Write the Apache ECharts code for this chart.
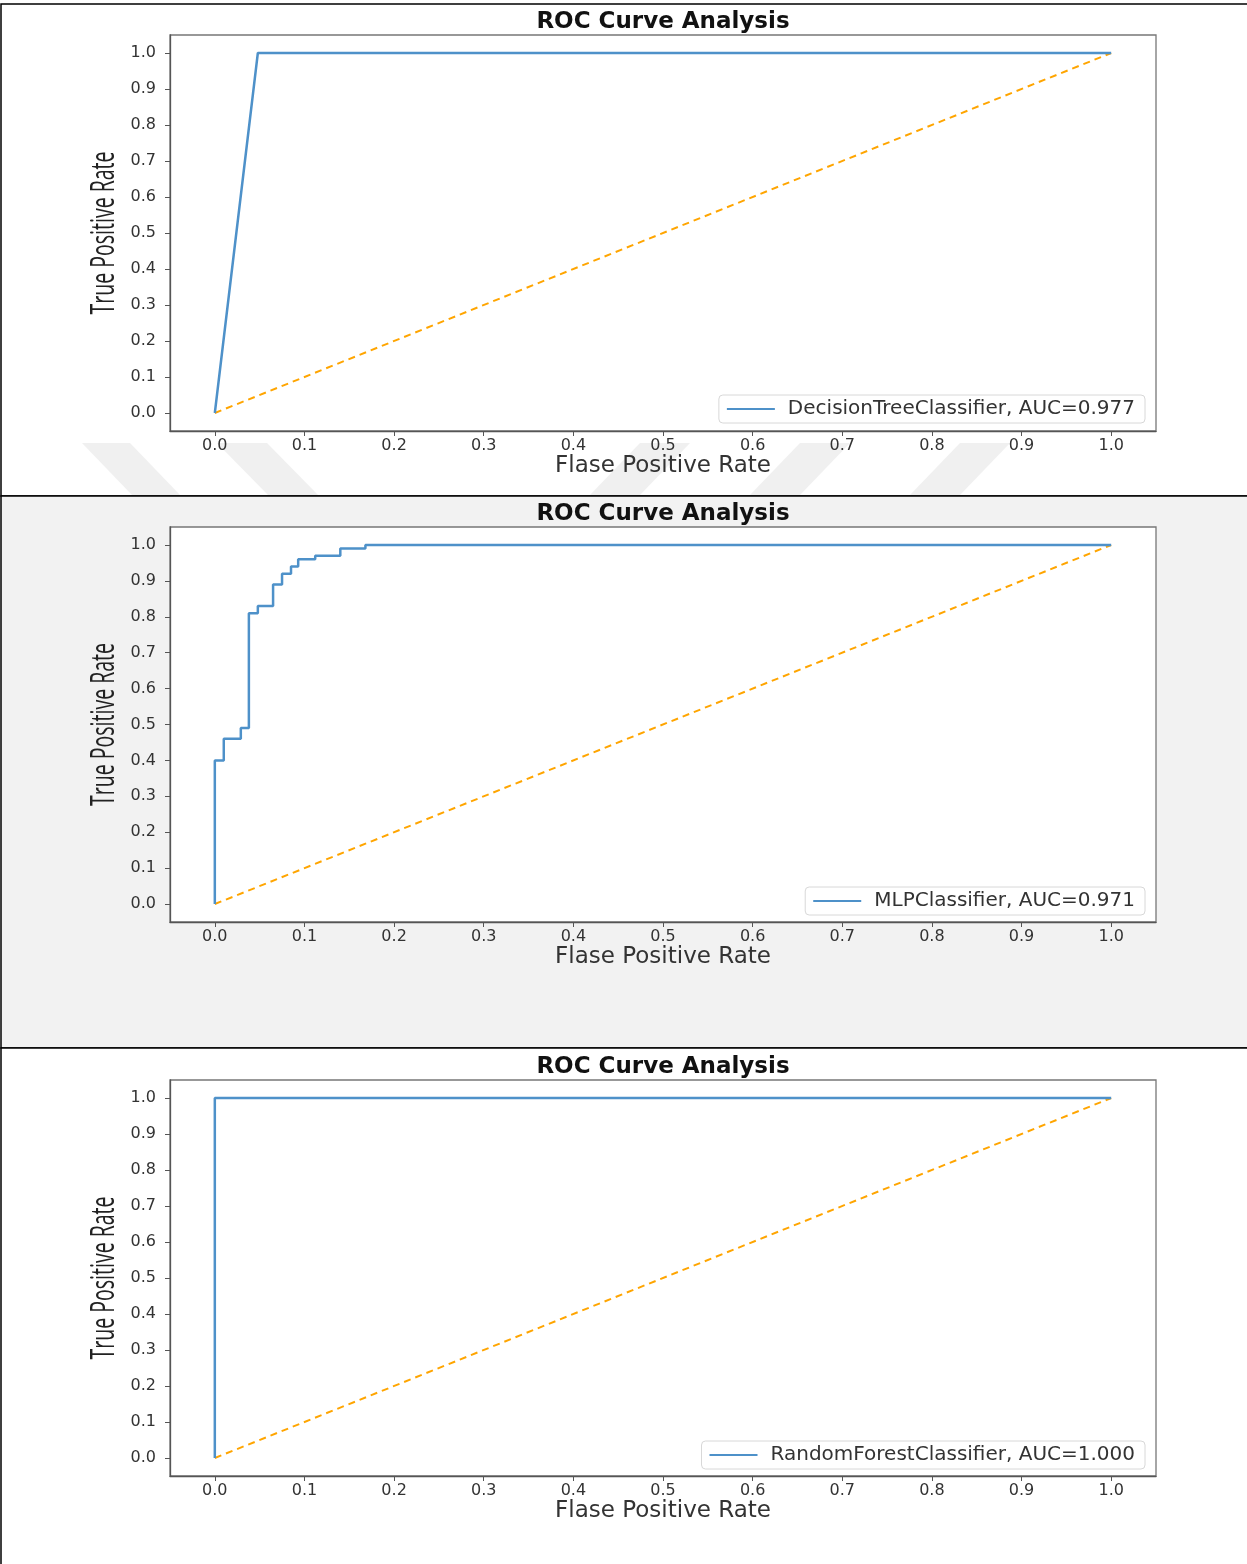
<!DOCTYPE html>
<html>
<head>
<meta charset="utf-8">
<script src="https://cdn.jsdelivr.net/npm/echarts@6/dist/echarts.min.js"></script>
<style>
  html, body { margin: 0; padding: 0; background: #fff; }
  #chart { width: 1247px; height: 1564px; }
</style>
</head>
<body>
<div id="chart"></div>
<script>
// ---------------- data ----------------
const chartTitle = 'ROC Curve Analysis';
const xAxisName = 'Flase Positive Rate';
const yAxisName = 'True Positive Rate';
const tickValues = [0, 0.1, 0.2, 0.3, 0.4, 0.5, 0.6, 0.7, 0.8, 0.9, 1.0];

const chanceFpr = [0, 1];
const chanceTpr = [0, 1];

const dtName = 'DecisionTreeClassifier, AUC=0.977';
const dtFpr = [0, 0.048, 1.0];
const dtTpr = [0, 1.0, 1.0];

const mlpName = 'MLPClassifier, AUC=0.971';
const mlpFpr = [0, 0, 0.010, 0.010, 0.029, 0.029, 0.038, 0.038, 0.048, 0.048, 0.065, 0.065, 0.075, 0.075, 0.085, 0.085, 0.093, 0.093, 0.112, 0.112, 0.140, 0.140, 0.168, 0.168, 1.0];
const mlpTpr = [0, 0.40, 0.40, 0.46, 0.46, 0.49, 0.49, 0.81, 0.81, 0.83, 0.83, 0.89, 0.89, 0.92, 0.92, 0.94, 0.94, 0.96, 0.96, 0.97, 0.97, 0.99, 0.99, 1.0, 1.0];

const rfName = 'RandomForestClassifier, AUC=1.000';
const rfFpr = [0, 0, 1.0];
const rfTpr = [0, 1.0, 1.0];

// ---------------- layout ----------------
const pair = (xs, ys) => xs.map((x, i) => [x, ys[i]]);
const panels = [
  { top: 35,   height: 396, titleTop: 6,    legendTop: 395,  name: dtName,  fpr: dtFpr,  tpr: dtTpr },
  { top: 527,  height: 395, titleTop: 498,  legendTop: 887,  name: mlpName, fpr: mlpFpr, tpr: mlpTpr },
  { top: 1080, height: 396, titleTop: 1051, legendTop: 1441, name: rfName,  fpr: rfFpr,  tpr: rfTpr }
];
const gridLeft = 170, gridWidth = 986;
const axisColor = '#555';
const labelColor = '#333';
const blue = '#4e91c9';

function axisCommon(isX) {
  return {
    type: 'value',
    min: -0.05,
    max: 1.05,
    splitLine: { show: false },
    axisLine: { show: true, onZero: false, lineStyle: { color: axisColor, width: 1.3 } },
    axisTick: { show: true, length: 5, inside: false, customValues: tickValues, lineStyle: { color: axisColor } },
    axisLabel: {
      customValues: tickValues,
      formatter: v => Number(v).toFixed(1),
      fontFamily: 'DejaVu Sans',
      fontSize: 16,
      color: labelColor,
      margin: isX ? 7 : 14
    }
  };
}

// measure y label for condensed appearance
const ctx = document.createElement('canvas').getContext('2d');
const ylFont = 32;
ctx.font = ylFont + 'px "Open Sans"';
const ylWidth = ctx.measureText(yAxisName).width || 280;
const ylScale = 163 / ylWidth;

const grids = [], xAxes = [], yAxes = [], titles = [], legends = [], series = [];
const graphics = [
  { type: 'rect', z: -10, shape: { x: 1, y: 4, width: 1250, height: 492 }, style: { fill: '#ffffff', stroke: '#000', lineWidth: 1.5 } },
  { type: 'rect', z: -10, shape: { x: 1, y: 496, width: 1250, height: 552 }, style: { fill: '#f2f2f2', stroke: '#000', lineWidth: 1.5 } },
  { type: 'rect', z: -10, shape: { x: 1, y: 1048, width: 1250, height: 520 }, style: { fill: '#ffffff', stroke: '#000', lineWidth: 1.5 } },
  // faint watermark stripes
  { type: 'polygon', z: -9, shape: { points: [[82, 443], [130, 443], [180, 495], [132, 495]] }, style: { fill: '#f0f0f0' } },
  { type: 'polygon', z: -9, shape: { points: [[217, 443], [267, 443], [318, 495], [268, 495]] }, style: { fill: '#f0f0f0' } },
  { type: 'polygon', z: -9, shape: { points: [[640, 443], [690, 443], [640, 495], [590, 495]] }, style: { fill: '#f0f0f0' } },
  { type: 'polygon', z: -9, shape: { points: [[800, 443], [850, 443], [800, 495], [750, 495]] }, style: { fill: '#f0f0f0' } },
  { type: 'polygon', z: -9, shape: { points: [[960, 443], [1010, 443], [960, 495], [910, 495]] }, style: { fill: '#f0f0f0' } }
];

panels.forEach((p, i) => {
  grids.push({ left: gridLeft, top: p.top, width: gridWidth, height: p.height, show: true, backgroundColor: '#fff', borderColor: '#777', borderWidth: 1.3, containLabel: false });
  xAxes.push(Object.assign(axisCommon(true), {
    gridIndex: i,
    name: xAxisName, nameLocation: 'middle', nameGap: 22,
    nameTextStyle: { fontFamily: 'DejaVu Sans', fontSize: 23, color: labelColor }
  }));
  yAxes.push(Object.assign(axisCommon(false), { gridIndex: i }));
  titles.push({
    text: chartTitle, left: gridLeft + gridWidth / 2 - 5, top: p.titleTop, textAlign: 'center',
    textStyle: { fontFamily: 'DejaVu Sans', fontWeight: 'bold', fontSize: 23, color: '#111' }
  });
  legends.push({
    data: [{ name: p.name, icon: 'rect' }], right: 102, top: p.legendTop, orient: 'horizontal',
    itemWidth: 48, itemHeight: 2,
    padding: [4, 10, 4, 8],
    backgroundColor: '#fff', borderColor: '#d8d8d8', borderWidth: 1, borderRadius: 4,
    itemStyle: { color: blue },
    textStyle: { fontFamily: 'DejaVu Sans', fontSize: 20, color: labelColor, padding: [0, 0, 0, 8] },
    selectedMode: false
  });
  series.push({
    type: 'line', name: 'chance' + i, xAxisIndex: i, yAxisIndex: i,
    data: pair(chanceFpr, chanceTpr), symbol: 'none', silent: true,
    lineStyle: { color: '#ffa500', width: 2, type: [7, 5] }, z: 2
  });
  series.push({
    type: 'line', name: p.name, xAxisIndex: i, yAxisIndex: i,
    data: pair(p.fpr, p.tpr), symbol: 'none', silent: true,
    color: blue,
    lineStyle: { color: blue, width: 2.5 }, z: 3
  });
  graphics.push({
    type: 'text', z: 5,
    x: 105, y: p.top + p.height / 2,
    rotation: Math.PI / 2,
    scaleX: ylScale, scaleY: 1,
    style: { text: yAxisName, font: ylFont + 'px "Open Sans"', fill: '#222', align: 'center', verticalAlign: 'middle' }
  });
});

const chart = echarts.init(document.getElementById('chart'), null, { renderer: 'canvas' });
chart.setOption({
  animation: false,
  backgroundColor: '#fff',
  title: titles,
  legend: legends,
  grid: grids,
  xAxis: xAxes,
  yAxis: yAxes,
  series: series,
  graphic: graphics
});
</script>
</body>
</html>
